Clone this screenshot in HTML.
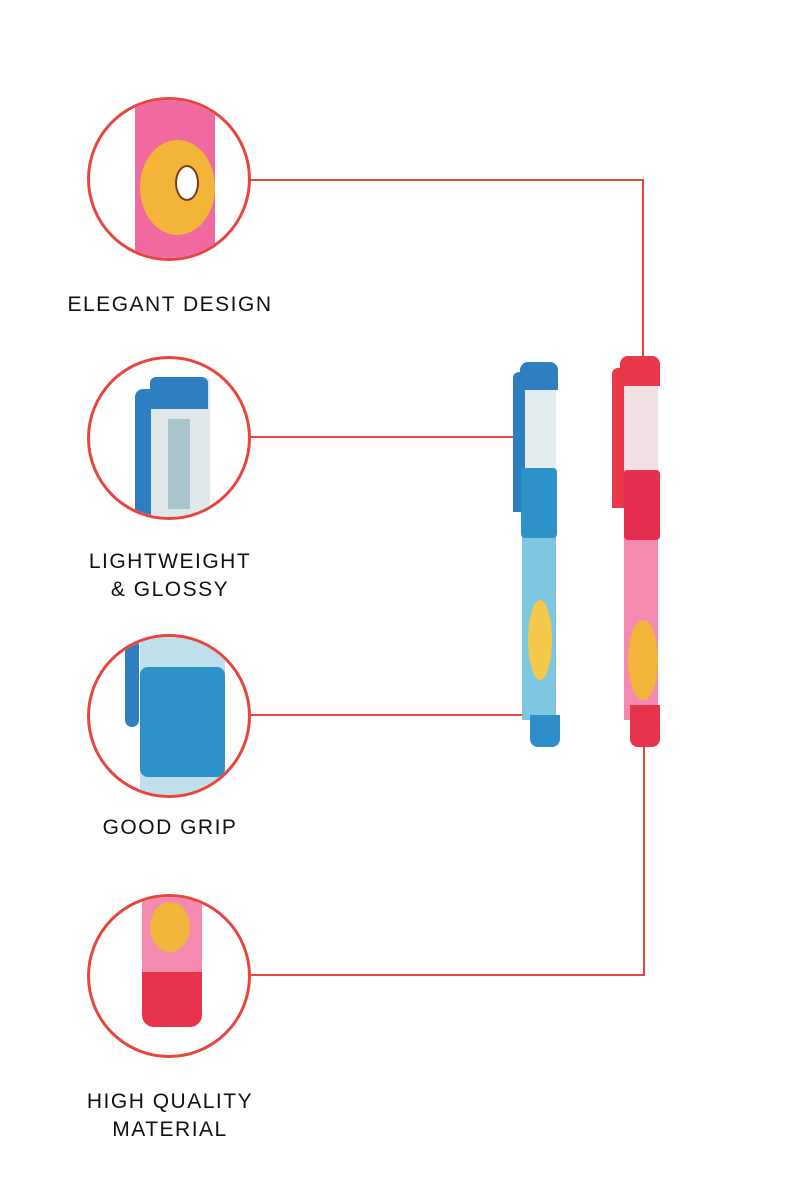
<!DOCTYPE html>
<html><head><style>
body{margin:0;width:800px;height:1200px;background:#fff;position:relative;overflow:hidden;font-family:"Liberation Sans",sans-serif}
.c{position:absolute;width:158px;height:158px;border:3px solid #e8453c;border-radius:50%;overflow:hidden;background:#fff}
.l{position:absolute;left:0;width:340px;text-align:center;font-size:21px;letter-spacing:1.5px;color:#111;line-height:28px;font-weight:500}
.h{position:absolute;height:2px;background:#e8453c}
.v{position:absolute;width:2px;background:#e8453c}
.a{position:absolute}
</style></head><body>
<!-- circle 1 -->
<div class="c" style="left:87px;top:97px">
 <div class="a" style="left:45px;top:0;width:80px;height:160px;background:#f06aa0"></div>
 <div class="a" style="left:50px;top:40px;width:75px;height:95px;border-radius:50%;background:#f2b53a"></div>
 <div class="a" style="left:85px;top:65px;width:20px;height:32px;border-radius:50%;background:#fff;border:2px solid #7a3a1a"></div>
</div>
<!-- circle 2 -->
<div class="c" style="left:87px;top:356px">
 <div class="a" style="left:60px;top:20px;width:60px;height:140px;background:#dfe9ec"></div>
 <div class="a" style="left:60px;top:18px;width:58px;height:32px;background:#2e7fc2;border-radius:6px 6px 0 0"></div>
 <div class="a" style="left:45px;top:30px;width:16px;height:130px;background:#2e7fc2;border-radius:8px 0 0 0"></div>
 <div class="a" style="left:78px;top:60px;width:22px;height:90px;background:#a9c6cf"></div>
</div>
<!-- circle 3 -->
<div class="c" style="left:87px;top:634px">
 <div class="a" style="left:50px;top:0;width:85px;height:160px;background:#bfe0ea"></div>
 <div class="a" style="left:50px;top:30px;width:85px;height:110px;background:#2d92c8;border-radius:8px"></div>
 <div class="a" style="left:35px;top:0;width:14px;height:90px;background:#2e7fc2;border-radius:0 0 8px 8px"></div>
</div>
<!-- circle 4 -->
<div class="c" style="left:87px;top:894px">
 <div class="a" style="left:52px;top:0;width:60px;height:80px;background:#f48ab0"></div>
 <div class="a" style="left:60px;top:5px;width:40px;height:50px;border-radius:50%;background:#f2b53a"></div>
 <div class="a" style="left:52px;top:75px;width:60px;height:55px;background:#e8344a;border-radius:0 0 12px 12px"></div>
</div>
<div class="l" style="top:291px">ELEGANT DESIGN</div>
<div class="l" style="top:548px">LIGHTWEIGHT<br>&amp; GLOSSY</div>
<div class="l" style="top:814px">GOOD GRIP</div>
<div class="l" style="top:1088px">HIGH QUALITY<br>MATERIAL</div>
<!-- lines -->
<div class="h" style="left:250px;top:179px;width:394px"></div>
<div class="v" style="left:642px;top:179px;height:178px"></div>
<div class="h" style="left:250px;top:436px;width:266px"></div>
<div class="h" style="left:250px;top:714px;width:280px"></div>
<div class="h" style="left:250px;top:974px;width:395px"></div>
<div class="v" style="left:643px;top:745px;height:231px"></div>
<!-- blue pen -->
<div class="a" style="left:522px;top:470px;width:34px;height:250px;background:#7fc6e0"></div>
<div class="a" style="left:522px;top:370px;width:34px;height:100px;background:#e3edf0"></div>
<div class="a" style="left:520px;top:362px;width:38px;height:28px;background:#2e7fc2;border-radius:8px 8px 0 0"></div>
<div class="a" style="left:513px;top:372px;width:12px;height:140px;background:#2e7fc2;border-radius:6px 0 0 0"></div>
<div class="a" style="left:521px;top:468px;width:36px;height:70px;background:#2d92c8;border-radius:4px"></div>
<div class="a" style="left:528px;top:600px;width:24px;height:80px;background:#f2c94a;border-radius:50%"></div>
<div class="a" style="left:530px;top:715px;width:30px;height:32px;background:#2e8dc8;border-radius:0 0 8px 8px"></div>
<!-- red pen -->
<div class="a" style="left:624px;top:470px;width:34px;height:250px;background:#f48ab0"></div>
<div class="a" style="left:624px;top:370px;width:34px;height:100px;background:#f0e0e4"></div>
<div class="a" style="left:620px;top:356px;width:40px;height:30px;background:#e8384a;border-radius:8px 8px 0 0"></div>
<div class="a" style="left:612px;top:368px;width:12px;height:140px;background:#e8384a;border-radius:6px 0 0 0"></div>
<div class="a" style="left:624px;top:470px;width:36px;height:70px;background:#e62e50;border-radius:4px"></div>
<div class="a" style="left:628px;top:620px;width:30px;height:80px;background:#f2b53a;border-radius:50%"></div>
<div class="a" style="left:630px;top:705px;width:30px;height:42px;background:#e8344a;border-radius:0 0 8px 8px"></div>
</body></html>
